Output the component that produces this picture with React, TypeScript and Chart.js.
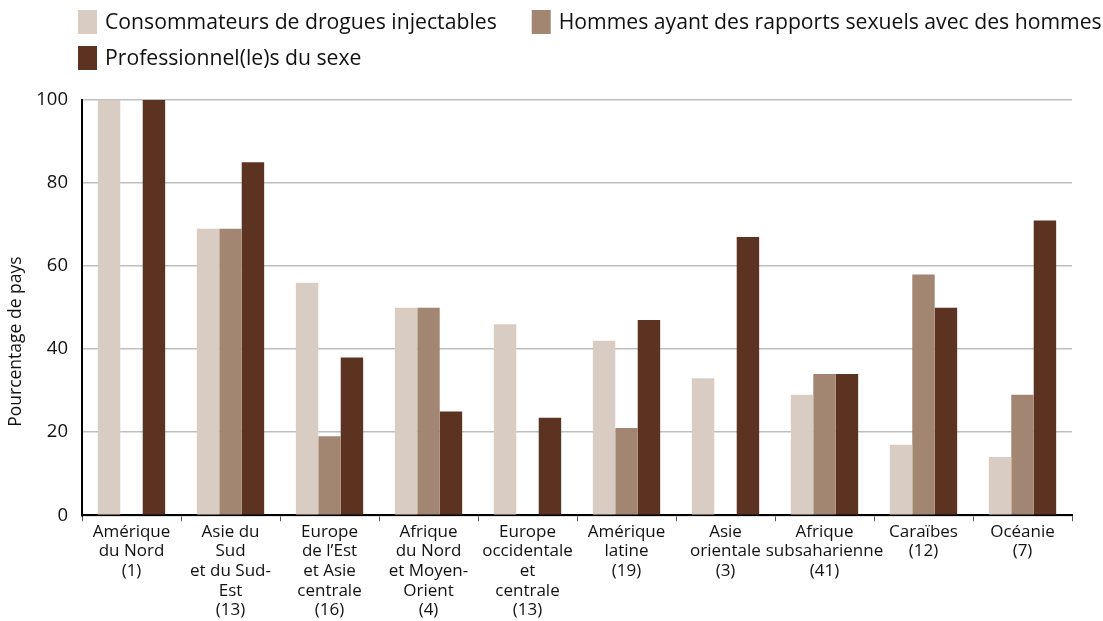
import React, { useEffect, useRef } from "react";
import { Chart, registerables } from "chart.js";

Chart.register(...registerables);

const categories: string[][] = [
  ["Amérique", "du Nord", "(1)"],
  ["Asie du", "Sud", "et du Sud-", "Est", "(13)"],
  ["Europe", "de l’Est", "et Asie", "centrale", "(16)"],
  ["Afrique", "du Nord", "et Moyen-", "Orient", "(4)"],
  ["Europe", "occidentale", "et", "centrale", "(13)"],
  ["Amérique", "latine", "(19)"],
  ["Asie", "orientale", "(3)"],
  ["Afrique", "subsaharienne", "(41)"],
  ["Caraïbes", "(12)"],
  ["Océanie", "(7)"],
];

const seriesLabels = [
  "Consommateurs de drogues injectables",
  "Hommes ayant des rapports sexuels avec des hommes",
  "Professionnel(le)s du sexe",
];

const injectingDrugUsers: (number | null)[] = [100, 69, 56, 50, 46, 42, 33, 29, 17, 14];
const menWithMen: (number | null)[] = [null, 69, 19, 50, null, 21, null, 34, 58, 29];
const sexWorkers: (number | null)[] = [100, 85, 38, 25, 23.5, 47, 67, 34, 50, 71];

const yMin = 0;
const yMax = 100;
const yStep = 20;
const yTitle = "Pourcentage de pays";

const colors = ["#d8ccc3", "#a38671", "#5c3220"];
const FONT = "'Open Sans', 'Noto Sans', sans-serif";

const customLegend = {
  id: "customLegend",
  afterDraw(chart: any) {
    const ctx = chart.ctx as CanvasRenderingContext2D;
    ctx.save();
    ctx.font = `21.2px ${FONT}`;
    ctx.textBaseline = "middle";
    ctx.textAlign = "left";
    const startX = 78;
    const firstRowY = 22;
    const rowStep = 36;
    const boxW = 19;
    const boxH = 24;
    const gap = 8;
    const itemGap = 35;
    const maxRight = 1115;
    let x = startX;
    let row = 0;
    chart.data.datasets.forEach((ds: any, i: number) => {
      const tw = ctx.measureText(ds.label).width;
      const w = boxW + gap + tw;
      if (i > 0 && x + w > maxRight) {
        row++;
        x = startX;
      }
      const yc = firstRowY + row * rowStep;
      ctx.fillStyle = ds.backgroundColor;
      ctx.fillRect(x, yc - boxH / 2, boxW, boxH);
      ctx.fillStyle = "#111";
      ctx.fillText(ds.label, x + boxW + gap, yc + 1);
      x += w + itemGap;
    });
    ctx.restore();

    // y-axis title, placed as in the reference (slightly below the plot's centre)
    const area = chart.chartArea;
    ctx.save();
    ctx.font = `17.5px ${FONT}`;
    ctx.fillStyle = "#111";
    ctx.textAlign = "center";
    ctx.textBaseline = "middle";
    ctx.translate(16, (area.top + area.bottom) / 2 + 34);
    ctx.rotate(-Math.PI / 2);
    ctx.fillText(yTitle, 0, 0);
    ctx.restore();
  },
};

export default function App() {
  const ref = useRef<HTMLCanvasElement | null>(null);
  useEffect(() => {
    if (!ref.current) return;
    const chart = new Chart(ref.current, {
      type: "bar",
      data: {
        labels: categories,
        datasets: [
          { label: seriesLabels[0], data: injectingDrugUsers, backgroundColor: colors[0] },
          { label: seriesLabels[1], data: menWithMen, backgroundColor: colors[1] },
          { label: seriesLabels[2], data: sexWorkers, backgroundColor: colors[2] },
        ],
      },
      options: {
        animation: false,
        responsive: true,
        maintainAspectRatio: false,
        layout: { padding: { top: 100, right: 31, left: 0, bottom: 0 } },
        datasets: { bar: { categoryPercentage: 0.68, barPercentage: 1, borderWidth: 0 } },
        plugins: {
          legend: { display: false },
          tooltip: { enabled: false },
        },
        scales: {
          x: {
            grid: {
              offset: true,
              drawOnChartArea: false,
              drawTicks: true,
              tickLength: 6,
              color: "#555",
              lineWidth: 1,
            },
            border: { color: "#000", width: 2 },
            ticks: {
              autoSkip: false,
              maxRotation: 0,
              minRotation: 0,
              color: "#111",
              padding: 1,
              font: { family: FONT, size: 17, lineHeight: 1.15 },
            },
          },
          y: {
            min: yMin,
            max: yMax,
            afterFit(scale: any) {
              scale.width = 82;
            },
            grid: { color: "#bfbfbf", lineWidth: 1.5, drawTicks: false },
            border: { color: "#000", width: 2 },
            ticks: {
              stepSize: yStep,
              padding: 14,
              color: "#111",
              font: { family: FONT, size: 18.5 },
            },
          },
        },
      },
      plugins: [customLegend],
    });
    return () => chart.destroy();
  }, []);
  return (
    <div style={{ position: "absolute", left: 0, top: 0, width: 1103, height: 621 }}>
      <canvas ref={ref} />
    </div>
  );
}
